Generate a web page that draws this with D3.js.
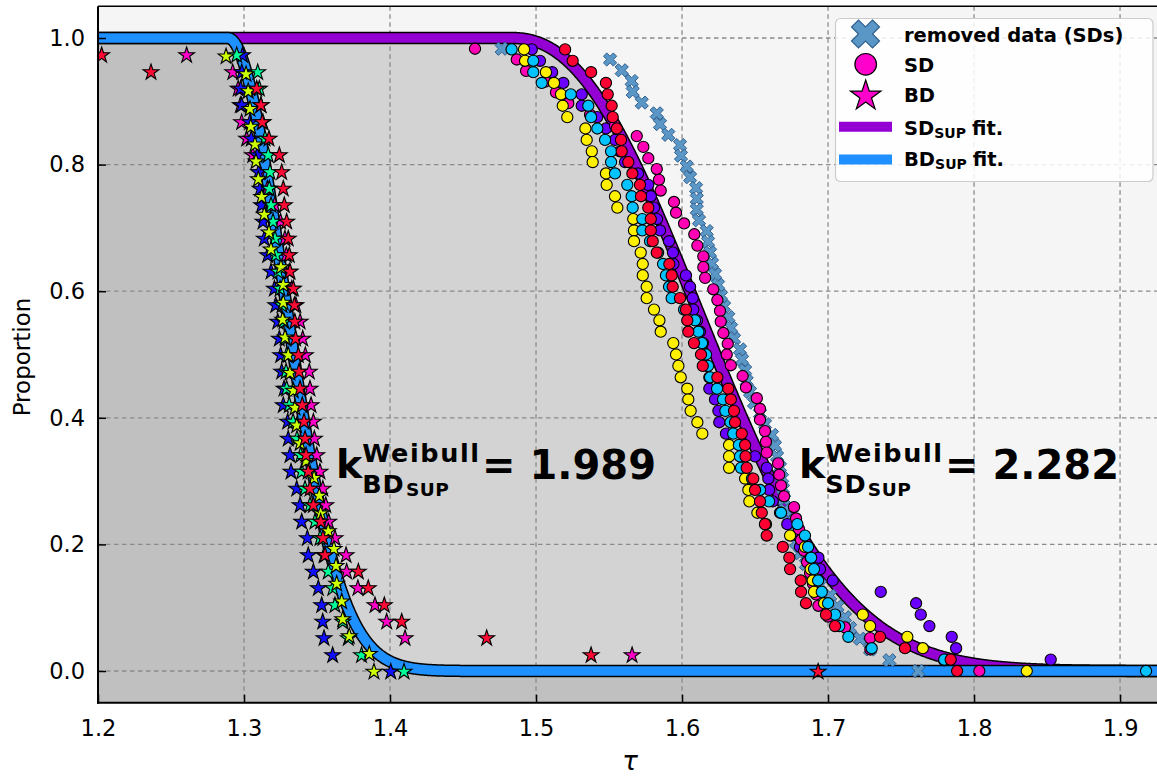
<!DOCTYPE html>
<html><head><meta charset="utf-8">
<script src="https://cdn.jsdelivr.net/npm/d3@7"></script>
<style>body{margin:0;background:#fff}svg{display:block}text{font-family:"DejaVu Sans",sans-serif}</style>
</head><body><svg id="c" width="1157" height="776"></svg>
<script>
// ---------- DATA ----------
const xTicks=[1.2,1.3,1.4,1.5,1.6,1.7,1.8,1.9];
const yTicks=[0.0,0.2,0.4,0.6,0.8,1.0];
// fit parameters (Weibull shape k as annotated)
const BD_K=1.989, BD_LOC=1.289, BD_SCALE=0.054;
const SD_K=2.282, SD_LOC=1.4828, SD_SCALE=0.1646;
// survival proportion levels
const lv38=[0.974,0.947,0.921,0.895,0.868,0.842,0.816,0.789,0.763,0.737,0.711,0.684,0.658,0.632,0.605,0.579,0.553,0.526,0.5,0.474,0.447,0.421,0.395,0.368,0.342,0.316,0.289,0.263,0.237,0.211,0.184,0.158,0.132,0.105,0.079,0.053,0.026,0];
const lv36=[0.972,0.944,0.917,0.889,0.861,0.833,0.806,0.778,0.75,0.722,0.694,0.667,0.639,0.611,0.583,0.556,0.528,0.5,0.472,0.444,0.417,0.389,0.361,0.333,0.306,0.278,0.25,0.222,0.194,0.167,0.139,0.111,0.083,0.056,0.028,0];
const lv56=[0.982,0.964,0.946,0.929,0.911,0.893,0.875,0.857,0.839,0.821,0.804,0.786,0.768,0.75,0.732,0.714,0.696,0.679,0.661,0.643,0.625,0.607,0.589,0.571,0.554,0.536,0.518,0.5,0.482,0.464,0.446,0.429,0.411,0.393,0.375,0.357,0.339,0.321,0.304,0.286,0.268,0.25,0.232,0.214,0.196,0.179,0.161,0.143,0.125,0.107,0.089,0.071,0.054,0.036,0.018,0];
const lv58=[0.983,0.966,0.948,0.931,0.914,0.897,0.879,0.862,0.845,0.828,0.810,0.793,0.776,0.759,0.741,0.724,0.707,0.690,0.672,0.655,0.638,0.621,0.603,0.586,0.569,0.552,0.534,0.517,0.5,0.483,0.466,0.448,0.431,0.414,0.397,0.379,0.362,0.345,0.328,0.310,0.293,0.276,0.259,0.241,0.224,0.207,0.190,0.172,0.155,0.138,0.121,0.103,0.086,0.069,0.052,0.034,0.017,0];
const lv59=[0.983,0.966,0.949,0.932,0.915,0.898,0.881,0.864,0.847,0.831,0.814,0.797,0.780,0.763,0.746,0.729,0.712,0.695,0.678,0.661,0.644,0.627,0.610,0.593,0.576,0.559,0.542,0.525,0.508,0.492,0.475,0.458,0.441,0.424,0.407,0.390,0.373,0.356,0.339,0.322,0.305,0.288,0.271,0.254,0.237,0.220,0.203,0.186,0.169,0.153,0.136,0.119,0.102,0.085,0.068,0.051,0.034,0.017,0];
// BD (stars) tau values
const bdRed=[1.2025,1.2363,1.3087,1.3116,1.3125,1.3171,1.3242,1.3258,1.3269,1.3276,1.3292,1.3303,1.3310,1.3315,1.3338,1.3345,1.3348,1.3353,1.3372,1.3377,1.3384,1.3399,1.3411,1.3418,1.3425,1.3440,1.3452,1.3475,1.3525,1.3541,1.3555,1.3783,1.3851,1.3961,1.4080,1.4662,1.5377,1.6932];
const bdMagenta=[1.2607,1.2923,1.2960,1.2975,1.2984,1.3018,1.3060,1.3110,1.3160,1.3210,1.3250,1.3280,1.3290,1.3310,1.3327,1.3355,1.3384,1.3402,1.3420,1.3447,1.3452,1.3459,1.3475,1.3482,1.3498,1.3520,1.3540,1.3560,1.3580,1.3623,1.3699,1.3703,1.3780,1.3897,1.3977,1.4103,1.5658];
const bdGreen=[1.2950,1.3094,1.3105,1.3116,1.3130,1.3144,1.3166,1.3178,1.3173,1.3185,1.3199,1.3212,1.3219,1.3233,1.3247,1.3260,1.3274,1.3286,1.3292,1.3288,1.3292,1.3310,1.3336,1.3363,1.3388,1.3395,1.3418,1.3452,1.3486,1.3521,1.3548,1.3577,1.3608,1.3623,1.3676,1.3714,1.3805,1.4096];
const bdBlue=[1.2990,1.2985,1.2977,1.2984,1.3040,1.3050,1.3090,1.3100,1.3110,1.3120,1.3130,1.3139,1.3162,1.3185,1.3208,1.3217,1.3231,1.3242,1.3251,1.3258,1.3274,1.3269,1.3299,1.3303,1.3315,1.3322,1.3361,1.3384,1.3395,1.3434,1.3440,1.3475,1.3509,1.3532,1.3539,1.3548,1.3607,1.4005];
const bdYellow=[1.2877,1.3014,1.3029,1.3041,1.3046,1.3075,1.3082,1.3098,1.3121,1.3139,1.3171,1.3185,1.3253,1.3269,1.3269,1.3265,1.3281,1.3303,1.3315,1.3338,1.3349,1.3361,1.3384,1.3425,1.3480,1.3516,1.3525,1.3577,1.3616,1.3630,1.3635,1.3669,1.3676,1.3721,1.3858,1.3890];
// SD (circles) tau values
const sdRed=[1.5199,1.5251,1.5377,1.5479,1.5491,1.5518,1.5525,1.5553,1.5582,1.5587,1.5632,1.5660,1.5712,1.5719,1.5769,1.5786,1.5786,1.5799,1.5827,1.5913,1.5929,1.5936,1.5986,1.6027,1.6036,1.6043,1.6082,1.6130,1.6142,1.6242,1.6317,1.6334,1.6356,1.6363,1.6409,1.6432,1.6435,1.6443,1.6488,1.6500,1.6534,1.6546,1.6568,1.6580,1.6690,1.6735,1.6740,1.6813,1.6815,1.6849,1.6986,1.7048,1.7356,1.7527,1.7840,1.7884];
const sdMagenta=[1.4582,1.4868,1.4932,1.5062,1.5137,1.5221,1.5370,1.5541,1.5690,1.5735,1.5769,1.5827,1.5842,1.5854,1.5945,1.5959,1.6014,1.6084,1.6105,1.6146,1.6146,1.6158,1.6214,1.6242,1.6260,1.6265,1.6283,1.6313,1.6306,1.6334,1.6415,1.6438,1.6512,1.6534,1.6534,1.6568,1.6575,1.6580,1.6658,1.6666,1.6678,1.6699,1.6767,1.6781,1.6801,1.6815,1.6836,1.6856,1.6877,1.6897,1.6918,1.6934,1.7000,1.7116,1.7288,1.7290,1.7795,1.8036];
const sdYellow=[1.4918,1.4925,1.5068,1.5123,1.5171,1.5183,1.5214,1.5338,1.5347,1.5382,1.5388,1.5479,1.5484,1.5541,1.5557,1.5666,1.5671,1.5671,1.5717,1.5731,1.5731,1.5758,1.5758,1.5808,1.5845,1.5854,1.5940,1.5959,1.5975,1.5991,1.6036,1.6043,1.6059,1.6105,1.6139,1.6322,1.6322,1.6322,1.6432,1.6454,1.6461,1.6516,1.6575,1.6740,1.6842,1.6881,1.6881,1.6895,1.6904,1.6973,1.7238,1.7288,1.7543,1.7649,1.7801,1.8361];
const sdCyan=[1.4833,1.4981,1.4981,1.5039,1.5238,1.5358,1.5377,1.5420,1.5473,1.5514,1.5514,1.5541,1.5625,1.5655,1.5662,1.5728,1.5728,1.5781,1.5836,1.5870,1.5890,1.5911,1.5929,1.6014,1.6089,1.6112,1.6137,1.6164,1.6178,1.6192,1.6240,1.6281,1.6297,1.6332,1.6351,1.6389,1.6397,1.6404,1.6479,1.6534,1.6596,1.6678,1.6790,1.6842,1.6863,1.6884,1.6904,1.6932,1.6957,1.7000,1.7048,1.7077,1.7139,1.7299,1.7796,1.9178];
const sdPurple=[1.4971,1.5027,1.5110,1.5187,1.5313,1.5313,1.5418,1.5479,1.5541,1.5575,1.5610,1.5699,1.5769,1.5786,1.5808,1.5829,1.5849,1.5911,1.5938,1.5941,1.6027,1.6055,1.6073,1.6077,1.6103,1.6123,1.6144,1.6158,1.6171,1.6187,1.6187,1.6226,1.6249,1.6255,1.6301,1.6397,1.6500,1.6580,1.6591,1.6597,1.6621,1.6671,1.6721,1.6790,1.6808,1.6934,1.6945,1.7032,1.7361,1.7603,1.7635,1.7694,1.7847,1.7877,1.8525,1.9600];
const sdRemoved=[1.4765,1.5507,1.5587,1.5655,1.5662,1.5724,1.5827,1.5849,1.5906,1.5986,1.5993,1.6032,1.6055,1.6096,1.6101,1.6101,1.6116,1.6169,1.6178,1.6192,1.6205,1.6226,1.6247,1.6267,1.6288,1.6317,1.6336,1.6356,1.6397,1.6411,1.6432,1.6443,1.6466,1.6493,1.6534,1.6568,1.6616,1.6637,1.6651,1.6671,1.6685,1.6692,1.6699,1.6705,1.6726,1.6753,1.6781,1.6808,1.6849,1.6890,1.6945,1.7014,1.7064,1.7116,1.7151,1.7219,1.7288,1.7420,1.7618];
const legendLabels=["removed data (SDs)","SD","BD"];

// ---------- CHART ----------
const svg=d3.select('#c');
const X0=98,X1=1157,Y0=6.35,Y1=702.65;
const x=d3.scaleLinear().domain([1.2,1.9253]).range([X0,X1]);
const y=d3.scaleLinear().domain([-0.05,1.05]).range([Y1,Y0]);
const weib=(t,loc,sc,k)=>t<=loc?1:Math.exp(-Math.pow((t-loc)/sc,k));
const tGrid=d3.range(1.19,1.94,0.0005);
const bdF=t=>weib(t,BD_LOC,BD_SCALE,BD_K), sdF=t=>weib(t,SD_LOC,SD_SCALE,SD_K);

svg.append('defs').append('clipPath').attr('id','clip').append('rect')
  .attr('x',X0).attr('y',Y0).attr('width',X1-X0).attr('height',Y1-Y0);
const plot=svg.append('g').attr('clip-path','url(#clip)');
plot.append('rect').attr('x',X0).attr('y',Y0).attr('width',X1-X0).attr('height',Y1-Y0).attr('fill','#f5f5f5');
const area=f=>d3.area().x(d=>x(d)).y0(Y1+5).y1(d=>y(f(d)));
plot.append('path').datum(tGrid).attr('d',area(sdF)).attr('fill','#d3d3d3');
plot.append('path').datum(tGrid).attr('d',area(bdF)).attr('fill','#c0c0c0');
// grid
const gg=plot.append('g').attr('stroke','#8a8a8a').attr('stroke-width',1.3).attr('stroke-dasharray','4.5,3.5');
xTicks.forEach(v=>gg.append('line').attr('x1',x(v)).attr('x2',x(v)).attr('y1',Y0).attr('y2',Y1));
yTicks.forEach(v=>gg.append('line').attr('x1',X0).attr('x2',X1).attr('y1',y(v)).attr('y2',y(v)));
// fit lines
const line=f=>d3.line().x(d=>x(d)).y(d=>y(f(d)));
[[sdF,'#9400d3'],[bdF,'#1e90ff']].forEach(([f,c])=>{
  plot.append('path').datum(tGrid).attr('d',line(f)).attr('fill','none').attr('stroke','#000').attr('stroke-width',12.5).attr('stroke-linejoin','round');
  plot.append('path').datum(tGrid).attr('d',line(f)).attr('fill','none').attr('stroke',c).attr('stroke-width',9.5).attr('stroke-linejoin','round');
});
// marker paths
function starPath(R){const r=R*0.381966,p=[];for(let i=0;i<10;i++){const a=-Math.PI/2+i*Math.PI/5,rr=i%2?r:R;p.push([rr*Math.cos(a),rr*Math.sin(a)]);}return 'M'+p.map(q=>q[0].toFixed(2)+','+q[1].toFixed(2)).join('L')+'Z';}
function xPath(h){const w=1/3,s=h/0.943,b=[[-w,-1],[w,-1],[w,-w],[1,-w],[1,w],[w,w],[w,1],[-w,1],[-w,w],[-1,w],[-1,-w],[-w,-w]];
  return 'M'+b.map(([u,v])=>[((u-v)/Math.SQRT2*s).toFixed(2),((u+v)/Math.SQRT2*s).toFixed(2)].join(',')).join('L')+'Z';}
// removed data
plot.append('g').selectAll('path').data(d3.zip(sdRemoved,lv59)).join('path')
  .attr('d',xPath(6.6)).attr('transform',d=>`translate(${x(d[0])},${y(d[1])})`)
  .attr('fill','#5a97c7').attr('stroke','#2f5f8f').attr('stroke-width',1);
// SD circles
const sdSeries=[[sdPurple,lv56,'#6a00ff'],[sdMagenta,lv58,'#ff00b4'],[sdYellow,lv56,'#fff000'],[sdCyan,lv56,'#00c3ff'],[sdRed,lv56,'#ff0033']];
sdSeries.forEach(([xs,ys,c])=>{
  plot.append('g').selectAll('circle').data(d3.zip(xs,ys)).join('circle')
   .attr('cx',d=>x(d[0])).attr('cy',d=>y(d[1])).attr('r',5.6)
   .attr('fill',c).attr('stroke','#000').attr('stroke-width',1.1);
});
// BD stars
const bdSeries=[[bdMagenta,lv38,'#ff00c8'],[bdBlue,lv38,'#1010ff'],[bdGreen,lv38,'#00ff99'],[bdYellow,lv36,'#ccff00'],[bdRed,lv38,'#ff0a35']];
bdSeries.forEach(([xs,ys,c])=>{
  plot.append('g').selectAll('path').data(d3.zip(xs,ys)).join('path')
   .attr('d',starPath(8.3)).attr('transform',d=>`translate(${x(d[0])},${y(d[1])+0.8})`)
   .attr('fill',c).attr('stroke','#000').attr('stroke-width',1.1).attr('stroke-linejoin','miter');
});
// spines
svg.append('line').attr('x1',X0).attr('x2',X0).attr('y1',Y0).attr('y2',Y1+1).attr('stroke','#000').attr('stroke-width',2);
svg.append('line').attr('x1',X0-1).attr('x2',X1).attr('y1',Y1).attr('y2',Y1).attr('stroke','#000').attr('stroke-width',2);
svg.append('line').attr('x1',X0).attr('x2',X1).attr('y1',Y0).attr('y2',Y0).attr('stroke','#000').attr('stroke-width',1.5);
// axes
const fmt=d3.format('.1f');
const ax=svg.append('g').attr('transform',`translate(0,${Y1})`).call(d3.axisBottom(x).tickValues(xTicks).tickFormat(fmt).tickSizeInner(-8).tickSizeOuter(0).tickPadding(17));
const ay=svg.append('g').attr('transform',`translate(${X0},0)`).call(d3.axisLeft(y).tickValues(yTicks).tickFormat(fmt).tickSizeInner(-8).tickSizeOuter(0).tickPadding(13));
[ax,ay].forEach(a=>{a.select('.domain').remove();a.selectAll('line').attr('stroke','#000').attr('stroke-width',1.5);
  a.selectAll('text').attr('font-size',22.5).attr('fill','#000').attr('font-family','DejaVu Sans');});
svg.append('text').attr('transform','translate(30,357) rotate(-90)').attr('text-anchor','middle').attr('font-size',23).text('Proportion');
svg.append('text').attr('x',630).attr('y',770).attr('text-anchor','middle').attr('font-size',26).attr('font-style','italic').text('τ');
// text width helper
function tw(str,size,ls){const t=svg.append('text').attr('font-weight','bold').attr('font-size',size).attr('letter-spacing',ls||0).text(str);const w=t.node().getComputedTextLength();t.remove();return w;}
// annotations: one text element with positioned tspans
function annot(x0,base,sub,val){
  const kW=tw('k',39.5), sW=tw(sub,25.5), supW=tw('SUP',18.5);
  const kx=x0+kW;
  const t=svg.append('text').attr('font-weight','bold').attr('fill','#000');
  t.append('tspan').attr('x',x0).attr('y',base).attr('font-size',39.5).text('k');
  t.append('tspan').attr('x',kx).attr('y',base-16).attr('font-size',25.5).attr('letter-spacing',1.6).text('Weibull');
  t.append('tspan').attr('x',kx).attr('y',base+15).attr('font-size',25.5).attr('letter-spacing',0.8).text(sub);
  t.append('tspan').attr('x',kx+sW+3).attr('y',base+18).attr('font-size',18.5).attr('letter-spacing',0.5).text('SUP');
  t.append('tspan').attr('x',x0+146).attr('y',base+1).attr('font-size',40).text('= '+val);
}
annot(336,478,'BD','1.989');
annot(799,478,'SD','2.282');
// legend
const lg=svg.append('g');
lg.append('rect').attr('x',835.5).attr('y',18.5).attr('width',317.5).attr('height',163).attr('rx',5)
  .attr('fill','#fff').attr('fill-opacity',0.85).attr('stroke','#cccccc').attr('stroke-width',1.2);
lg.append('path').attr('d',xPath(14)).attr('transform','translate(865.5,34)').attr('fill','#5a97c7').attr('stroke','#2f5f8f').attr('stroke-width',1.2);
lg.append('circle').attr('cx',865.7).attr('cy',64.3).attr('r',10.8).attr('fill','#ff00cc').attr('stroke','#000').attr('stroke-width',1.2);
lg.append('path').attr('d',starPath(16)).attr('transform','translate(865.7,96)').attr('fill','#ff00cc').attr('stroke','#000').attr('stroke-width',1.2);
lg.append('line').attr('x1',839).attr('x2',892).attr('y1',126.7).attr('y2',126.7).attr('stroke','#9400d3').attr('stroke-width',10);
lg.append('line').attr('x1',839).attr('x2',892).attr('y1',159.5).attr('y2',159.5).attr('stroke','#1e90ff').attr('stroke-width',10);
const lt=lg.append('g').attr('font-weight','bold').attr('font-size',19.5).attr('fill','#000');
[42,72,102].forEach((b,i)=>lt.append('text').attr('x',904).attr('y',b).text(legendLabels[i]));
[[135,'SD'],[165.5,'BD']].forEach(([b,t])=>{
  const aW=tw(t,19.5), sW=tw('SUP',14);
  const te=lt.append('text');
  te.append('tspan').attr('x',904).attr('y',b).text(t);
  te.append('tspan').attr('x',904+aW).attr('y',b+3).attr('font-size',14).text('SUP');
  te.append('tspan').attr('x',904+aW+sW+6).attr('y',b).text('fit.');
});
</script></body></html>
